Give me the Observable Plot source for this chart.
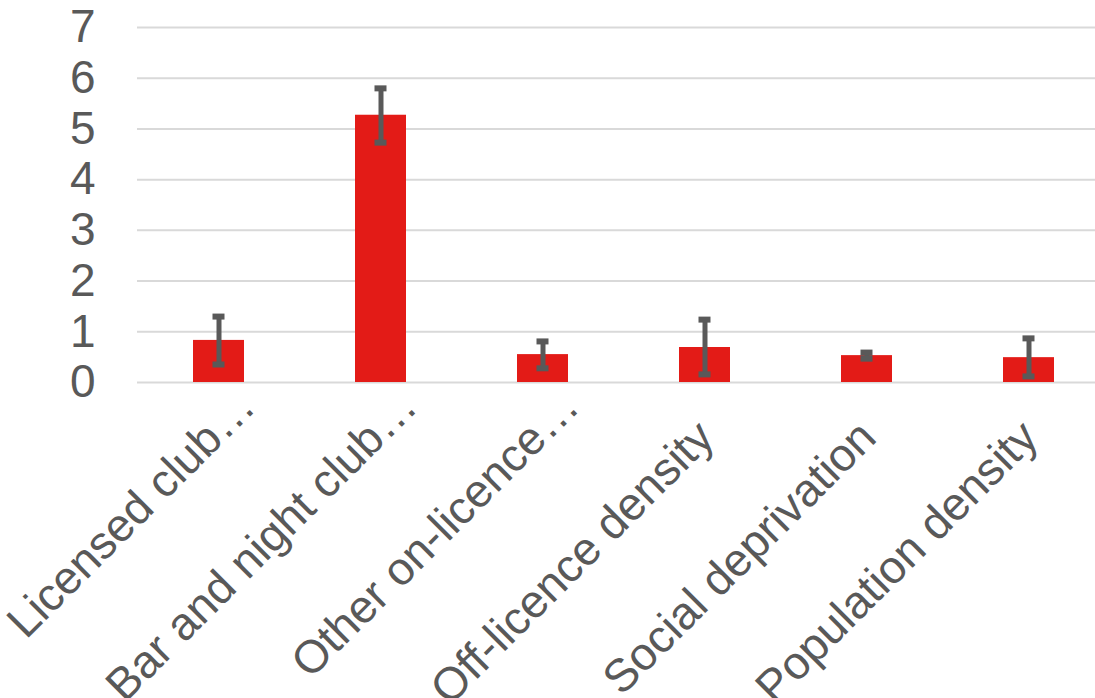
<!DOCTYPE html>
<html>
<head>
<meta charset="utf-8">
<script src="https://cdn.jsdelivr.net/npm/d3@7"></script>
<script src="https://cdn.jsdelivr.net/npm/@observablehq/plot@0.6"></script>
<style>
  html, body { margin: 0; padding: 0; background: #fff; }
  svg { display: block; }
</style>
</head>
<body>
<div id="chart"></div>
<script>
const categories = ["Licensed club…", "Bar and night club…", "Other on-licence…", "Off-licence density", "Social deprivation", "Population density"];
const values = [0.83, 5.27, 0.55, 0.69, 0.53, 0.49];
const errLow = [0.355, 4.73, 0.28, 0.16, 0.47, 0.12];
const errHigh = [1.30, 5.80, 0.81, 1.24, 0.59, 0.87];
const yTicks = [0, 1, 2, 3, 4, 5, 6, 7];

const data = categories.map((c, i) => ({cat: c, v: values[i], lo: errLow[i], hi: errHigh[i]}));
const truncated = categories.filter(c => c.endsWith("…"));
const full = categories.filter(c => !c.endsWith("…"));

const textColor = "#595959";
const font = "'Liberation Sans', Arial, sans-serif";

const chart = Plot.plot({
  width: 1095,
  height: 698,
  marginLeft: 137,
  marginRight: 0,
  marginTop: 27,
  marginBottom: 316,
  style: {fontFamily: font, background: "#fff", overflow: "visible"},
  x: {domain: categories, range: [137, 1110], paddingInner: 0.685, paddingOuter: 0.3425, axis: null},
  y: {domain: [0, 7], axis: null},
  marks: [
    Plot.ruleY(yTicks, {stroke: "#d9d9d9", strokeWidth: 2}),
    Plot.barY(data, {x: "cat", y: "v", fill: "#e31b17"}),
    Plot.ruleX(data, {x: "cat", y1: "lo", y2: "hi", stroke: "#595959", strokeWidth: 5}),
    Plot.tickY(data, {x: "cat", y: "lo", stroke: "#595959", strokeWidth: 6, insetLeft: 19.5, insetRight: 19.5}),
    Plot.tickY(data, {x: "cat", y: "hi", stroke: "#595959", strokeWidth: 6, insetLeft: 19.5, insetRight: 19.5}),
    Plot.text(yTicks, {x: null, y: d => d, text: d => String(d), frameAnchor: "left", dx: -42, textAnchor: "end", fontSize: 46, fill: textColor}),
    Plot.text(full, {x: d => d, frameAnchor: "bottom", text: d => d, rotate: -45, textAnchor: "end", lineAnchor: "middle", dx: 1, dy: 47, fontSize: 46, fill: textColor}),
    Plot.text(truncated, {x: d => d, frameAnchor: "bottom", text: d => d, rotate: -45, textAnchor: "end", lineAnchor: "middle", dx: 28, dy: 16, fontSize: 46, fill: textColor})
  ]
});
document.getElementById("chart").appendChild(chart);
</script>
</body>
</html>
